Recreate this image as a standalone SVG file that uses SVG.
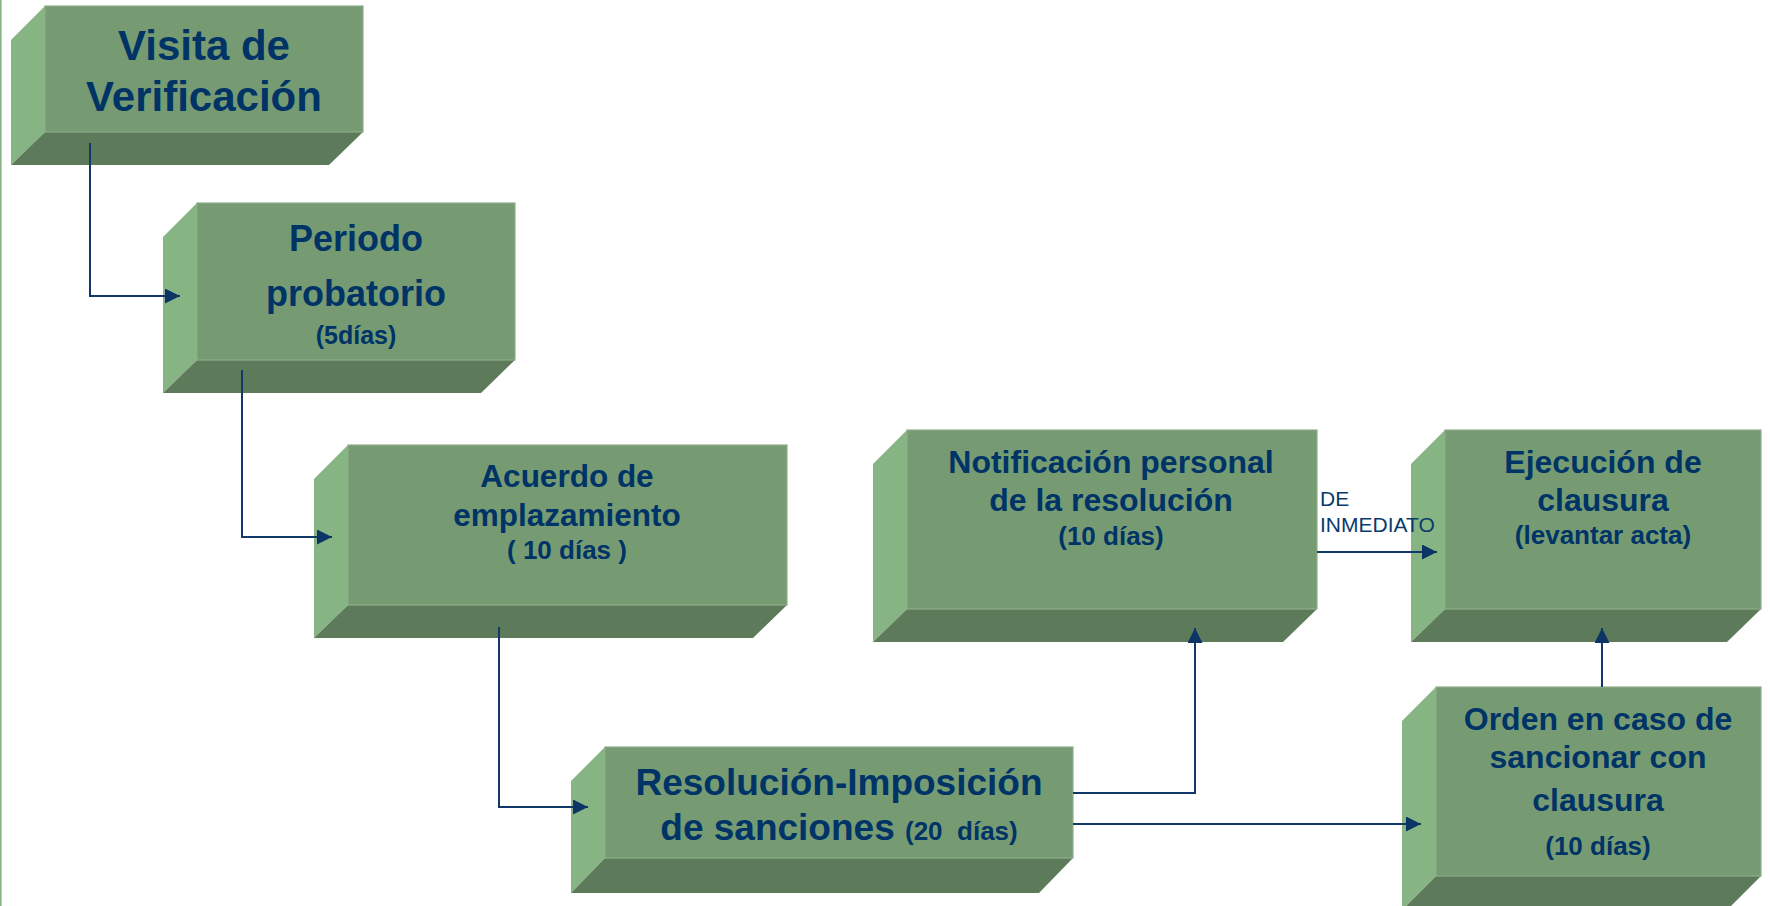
<svg xmlns="http://www.w3.org/2000/svg" width="1770" height="906" viewBox="0 0 1770 906">
<defs>
<style>
.front{fill:#769B73;stroke:#8DAE8A;stroke-width:1.2}
.left{fill:#86B483}
.bottom{fill:#5D7B5B}
.t{font-family:"Liberation Sans",Arial,sans-serif;font-weight:bold;fill:#003366;text-anchor:middle}
.lbl{font-family:"Liberation Sans",Arial,sans-serif;fill:#0B3A6B;font-size:21px}
.conn{fill:none;stroke:#12386A;stroke-width:2}
</style>
<marker id="ah" markerUnits="userSpaceOnUse" markerWidth="15" markerHeight="15" refX="15" refY="7.5" orient="auto">
<path d="M0,0 L15,7.5 L0,15 z" fill="#0E3466"/>
</marker>
</defs>
<rect x="0" y="0" width="1770" height="906" fill="#FFFFFF"/>
<line x1="0.8" y1="0" x2="0.8" y2="906" stroke="#86B483" stroke-width="1.6"/>

<g id="visita">
<polygon class="left" points="45,6 11,40 11,165 45,132"/>
<polygon class="bottom" points="45,132 363,132 329,165 11,165"/>
<rect class="front" x="45" y="6" width="318" height="126"/>
<text class="t" x="204" y="60" font-size="42">Visita de</text>
<text class="t" x="204" y="111" font-size="42">Verificación</text>
</g>

<g id="periodo">
<polygon class="left" points="197,203 163,237 163,393 197,360"/>
<polygon class="bottom" points="197,360 515,360 481,393 163,393"/>
<rect class="front" x="197" y="203" width="318" height="157"/>
<text class="t" x="356" y="251" font-size="36">Periodo</text>
<text class="t" x="356" y="306" font-size="36">probatorio</text>
<text class="t" x="356" y="344" font-size="25">(5días)</text>
</g>

<g id="acuerdo">
<polygon class="left" points="348,445 314,479 314,638 348,605"/>
<polygon class="bottom" points="348,605 787,605 753,638 314,638"/>
<rect class="front" x="348" y="445" width="439" height="160"/>
<text class="t" x="567" y="487" font-size="31.5">Acuerdo de</text>
<text class="t" x="567" y="526" font-size="31.5">emplazamiento</text>
<text class="t" x="567" y="559" font-size="26" xml:space="preserve">( 10 días )</text>
</g>

<g id="notificacion">
<polygon class="left" points="907,430 873,464 873,642 907,609"/>
<polygon class="bottom" points="907,609 1317,609 1283,642 873,642"/>
<rect class="front" x="907" y="430" width="410" height="179"/>
<text class="t" x="1111" y="473" font-size="32">Notificación personal</text>
<text class="t" x="1111" y="511" font-size="32">de la resolución</text>
<text class="t" x="1111" y="545" font-size="26">(10 días)</text>
</g>

<g id="ejecucion">
<polygon class="left" points="1445,430 1411,464 1411,642 1445,609"/>
<polygon class="bottom" points="1445,609 1761,609 1727,642 1411,642"/>
<rect class="front" x="1445" y="430" width="316" height="179"/>
<text class="t" x="1603" y="473" font-size="32">Ejecución de</text>
<text class="t" x="1603" y="511" font-size="32">clausura</text>
<text class="t" x="1603" y="544" font-size="26">(levantar acta)</text>
</g>

<g id="resolucion">
<polygon class="left" points="605,747 571,781 571,893 605,858"/>
<polygon class="bottom" points="605,858 1073,858 1039,893 571,893"/>
<rect class="front" x="605" y="747" width="468" height="111"/>
<text class="t" x="839" y="795" font-size="37">Resolución-Imposición</text>
<text class="t" x="839" y="840" font-size="37" xml:space="preserve">de sanciones <tspan font-size="26">(20  días)</tspan></text>
</g>

<g id="orden">
<polygon class="left" points="1436,687 1402,721 1402,910 1436,876"/>
<polygon class="bottom" points="1436,876 1761,876 1727,910 1402,910"/>
<rect class="front" x="1436" y="687" width="325" height="189"/>
<text class="t" x="1598" y="730" font-size="32">Orden en caso de</text>
<text class="t" x="1598" y="768" font-size="32">sancionar con</text>
<text class="t" x="1598" y="811" font-size="32">clausura</text>
<text class="t" x="1598" y="855" font-size="26">(10 días)</text>
</g>

<g id="connectors">
<path class="conn" d="M90,143 V296 H180" marker-end="url(#ah)"/>
<path class="conn" d="M242,370 V537 H332" marker-end="url(#ah)"/>
<path class="conn" d="M499,627 V807 H588" marker-end="url(#ah)"/>
<path class="conn" d="M1073,793 H1195 V628" marker-end="url(#ah)"/>
<path class="conn" d="M1073,824 H1421" marker-end="url(#ah)"/>
<path class="conn" d="M1317,552 H1437" marker-end="url(#ah)"/>
<path class="conn" d="M1602,687 V628" marker-end="url(#ah)"/>
<text class="lbl" x="1320" y="506">DE</text>
<text class="lbl" x="1320" y="532">INMEDIATO</text>
</g>
</svg>
